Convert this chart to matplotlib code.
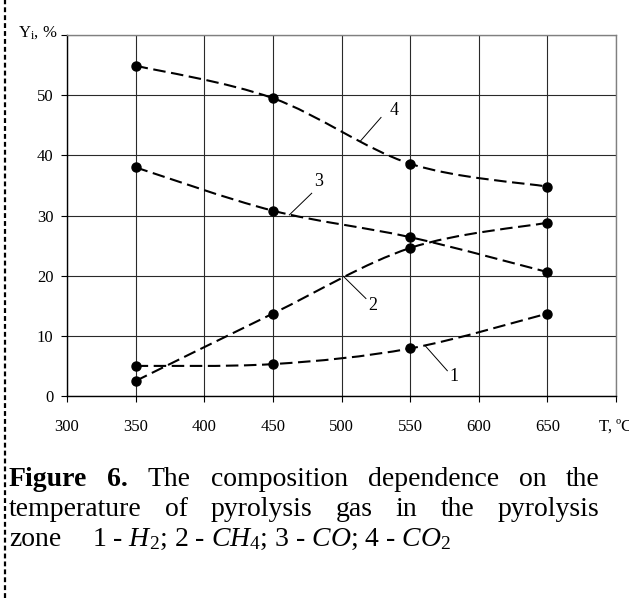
import matplotlib
matplotlib.use("Agg")
import matplotlib.pyplot as plt
from matplotlib.path import Path
from matplotlib.patches import PathPatch
from matplotlib.lines import Line2D
import numpy as np

plt.rcParams['font.family'] = ['Liberation Serif', 'DejaVu Serif']
plt.rcParams['mathtext.fontset'] = 'custom'
plt.rcParams['mathtext.rm'] = 'Liberation Serif'
plt.rcParams['mathtext.it'] = 'Liberation Serif:italic'
plt.rcParams['mathtext.bf'] = 'Liberation Serif:bold'
plt.rcParams['lines.scale_dashes'] = False

# ---- data ----
temperature = [350, 450, 550, 650]
h2 = [5.0, 5.3, 7.9, 13.7]      # 1
ch4 = [2.5, 13.7, 24.6, 28.8]   # 2
co = [38.0, 30.8, 26.4, 20.6]   # 3
co2 = [54.9, 49.5, 38.6, 34.8]  # 4
series = [h2, ch4, co, co2]
series_labels = ["1", "2", "3", "4"]
x_ticks = [300, 350, 400, 450, 500, 550, 600, 650, 700]
x_ticklabels = ["300", "350", "400", "450", "500", "550", "600", "650", "T, ºC"]
y_ticks = [0, 10, 20, 30, 40, 50, 60]
y_ticklabels = ["0", "10", "20", "30", "40", "50", ""]

# label annotation placement (text pos, leader start, leader end) in data units
label_pos = {
    "4": ((538.5, 47.5), (528.8, 46.3), (513.5, 42.3)),
    "3": ((483.2, 35.6), (478.3, 33.7), (462.0, 30.1)),
    "2": ((522.6, 15.1), (517.8, 16.2), (501.3, 19.9)),
    "1": ((581.6, 3.2), (577.1, 4.2), (560.8, 8.4)),
}

W, H = 629, 598
fig = plt.figure(figsize=(W / 100, H / 100), dpi=100)
fig.patch.set_facecolor('white')
ax = fig.add_axes([67 / W, 1 - 396 / H, (616 - 67) / W, (396 - 35) / H])
ax.set_xlim(300, 700)
ax.set_ylim(0, 60)
ax.set_xticks(x_ticks)
ax.set_xticklabels(x_ticklabels)
ax.set_yticks(y_ticks)
ax.set_yticklabels(y_ticklabels)
ax.grid(True, color='#2a2a2a', lw=0.8)
ax.set_axisbelow(True)
for s in ['left', 'bottom']:
    ax.spines[s].set_color('black')
    ax.spines[s].set_linewidth(1.0)
for s in ['top', 'right']:
    ax.spines[s].set_color('#808080')
    ax.spines[s].set_linewidth(1.0)
ax.tick_params(axis='x', direction='out', length=4.3, width=0.8, pad=12, labelsize=12, colors='black')
ax.tick_params(axis='y', direction='out', length=4.3, width=0.8, pad=5.5, labelsize=12, colors='black')


def smooth_path(xs, ys):
    pts = np.column_stack([xs, ys]).astype(float)
    n = len(pts)
    verts = [pts[0]]
    codes = [Path.MOVETO]
    for i in range(n - 1):
        p_prev = pts[i - 1] if i > 0 else pts[i]
        p0 = pts[i]
        p1 = pts[i + 1]
        p_next = pts[i + 2] if i + 2 < n else pts[i + 1]
        c1 = p0 + (p1 - p_prev) / 6.0
        c2 = p1 - (p_next - p0) / 6.0
        verts += [c1, c2, p1]
        codes += [Path.CURVE4] * 3
    return Path(verts, codes)


for ys in series:
    patch = PathPatch(smooth_path(temperature, ys), facecolor='none', edgecolor='black',
                      lw=1.5, linestyle=(0, (9, 4)), zorder=3)
    ax.add_patch(patch)
    ax.plot(temperature, ys, linestyle='none', marker='o', ms=6.5, color='black', zorder=4)

for lab in series_labels:
    tpos, l0, l1 = label_pos[lab]
    ax.plot([l0[0], l1[0]], [l0[1], l1[1]], color='black', lw=0.7, zorder=3)
    ax.text(tpos[0], tpos[1], lab, ha='center', va='center', fontsize=13, zorder=5)

# y-axis title
fig.text(57 / W, 1 - 33 / H, "Y$_\\mathrm{i}$, %", ha='right', va='center', fontsize=12)

# dotted page border at left
fig.add_artist(Line2D([5 / W, 5 / W], [0, 1], transform=fig.transFigure, color='black',
                      lw=1.6, linestyle=(0, (3.5, 2.2))))

# caption with justified lines
cap_size = 20
renderer = fig.canvas.get_renderer()


def justified(words, weights, y_px, x0, x1):
    texts = []
    for w, wt in zip(words, weights):
        t = fig.text(0, 1 - y_px / H, w, ha='left', va='baseline', fontsize=cap_size, fontweight=wt)
        texts.append(t)
    widths = [t.get_window_extent(renderer).width for t in texts]
    gap = (x1 - x0 - sum(widths)) / (len(words) - 1)
    x = x0
    for t, wd in zip(texts, widths):
        t.set_x(x / W)
        x += wd + gap


justified(["Figure", "6.", "The", "composition", "dependence", "on", "the"],
          ['bold', 'bold', 'normal', 'normal', 'normal', 'normal', 'normal'], 486, 9, 600)
justified(["temperature", "of", "pyrolysis", "gas", "in", "the", "pyrolysis"],
          ['normal'] * 7, 516, 9, 599)
fig.text(9 / W, 1 - 546 / H, "zone", ha='left', va='baseline', fontsize=cap_size)
fig.text(92 / W, 1 - 546 / H,
         "1 - $\\mathit{H_2}$; 2 - $\\mathit{CH_4}$; 3 - $\\mathit{CO}$; 4 - $\\mathit{CO_2}$",
         ha='left', va='baseline', fontsize=cap_size)

fig.savefig('out.png', dpi=100)
